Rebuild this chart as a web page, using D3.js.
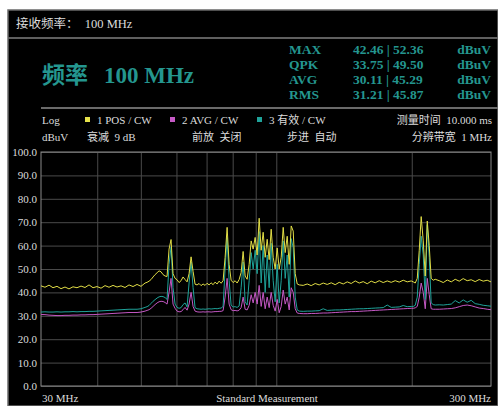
<!DOCTYPE html>
<html><head><meta charset="utf-8">
<script src="https://cdn.jsdelivr.net/npm/d3@7"></script>
<style>
html,body{margin:0;padding:0;background:#fff;}
svg{display:block;}
text{font-family:"Liberation Serif","Noto Sans CJK SC",serif;white-space:pre;}
</style></head>
<body>
<script>
// ---------- data ----------
const freqMHz = [30.00,30.62,31.26,31.90,32.56,33.24,33.92,34.62,35.34,36.07,36.82,37.58,38.36,39.15,39.96,40.79,41.63,42.49,43.37,44.27,45.18,46.12,47.07,48.04,49.04,50.05,51.09,
51.62,52.15,52.69,53.23,53.78,54.33,54.89,55.45,56.02,56.60,57.18,57.77,58.36,58.96,59.57,60.18,60.80,61.43,62.06,62.70,63.35,64.00,64.66,65.32,65.99,66.67,67.36,68.05,68.75,69.46,70.18,70.90,71.63,72.37,73.11,73.87,74.63,75.40,76.17,76.96,77.75,78.55,79.36,80.18,81.00,81.84,82.68,83.53,84.39,85.26,86.14,87.03,87.93,88.83,89.75,90.67,91.61,92.55,93.50,94.47,95.44,96.42,97.42,98.42,99.43,100.46,101.49,102.54,103.59,104.66,105.74,106.83,107.93,109.04,110.16,111.30,112.44,
114.77,117.14,119.56,122.03,124.56,127.13,129.76,132.45,135.19,137.98,140.84,143.75,146.72,149.76,152.85,156.01,159.24,162.53,165.89,169.33,172.83,176.40,180.05,183.77,187.57,191.45,195.41,199.45,
201.5,203.6,205.7,207.8,209.9,212.1,214.3,216.5,218.7,220.9,223.2,225.5,
230.2,235.0,239.8,244.8,249.8,255.0,260.2,265.6,271.1,276.7,282.4,288.3,294.2,300.0];

const posCW = [42.8,42.2,43.1,42.0,42.6,41.6,42.3,41.5,42.4,42.0,42.7,42.1,43.2,42.0,42.5,41.8,42.9,42.2,43.0,42.3,42.8,42.1,43.2,42.5,43.4,42.6,44.0,
44.3,44.8,45.5,46.6,47.6,48.4,49.2,48.8,47.6,47.0,46.8,58.5,62.6,48.0,46.0,45.4,44.2,45.0,46.6,45.5,44.5,48.0,55.2,49.0,43.5,43.2,43.8,42.9,43.6,43.0,43.9,43.2,44.1,43.3,44.4,43.6,44.8,43.9,45.0,55.0,67.8,52.0,45.2,44.2,45.0,44.0,45.5,48.5,57.5,47.0,45.6,52.0,62.0,58.5,63.5,56.0,71.7,58.0,65.7,55.0,62.7,54.0,67.0,55.0,50.0,59.0,50.0,55.0,67.8,57.0,64.0,52.0,68.4,66.2,48.0,43.6,43.2,
43.0,43.6,42.9,43.8,43.2,44.0,43.4,44.1,43.3,44.3,43.6,44.5,43.8,44.9,44.0,44.6,43.7,44.8,44.1,45.0,44.2,44.9,44.3,45.0,44.4,45.2,44.5,44.9,
44.5,44.0,46.0,58.0,72.4,62.0,47.0,70.5,60.0,46.0,45.2,45.6,
45.0,44.2,45.3,44.5,45.6,44.8,45.9,45.0,45.4,44.6,45.5,44.8,45.2,44.5];

const avgCW = [30.6,30.5,30.3,30.2,30.1,30.1,30.2,30.2,30.3,30.3,30.4,30.4,30.5,30.5,30.6,30.7,30.8,30.9,31.0,31.1,31.2,31.3,31.4,31.4,31.4,31.6,32.0,
32.3,32.6,33.2,34.0,34.8,35.5,36.0,36.2,36.1,35.7,35.0,40.0,46.0,35.0,33.2,32.0,31.7,31.8,32.6,33.6,32.4,35.0,40.0,34.0,32.0,31.7,31.6,31.6,31.7,31.6,31.7,31.7,31.6,31.7,31.8,31.8,31.9,31.9,32.2,38.0,46.0,35.0,32.6,32.2,32.3,32.1,32.4,33.5,38.0,32.8,32.5,34.5,39.0,35.5,40.0,35.0,43.0,34.0,40.0,33.0,38.0,33.5,40.0,34.5,32.0,37.0,31.3,34.0,41.0,35.0,38.0,32.5,42.0,40.0,33.0,31.2,31.0,
30.9,30.9,31.0,31.0,31.1,31.2,31.2,31.3,31.4,31.5,31.6,31.7,31.8,31.8,31.9,32.0,32.1,32.2,32.3,32.4,32.5,32.6,32.7,32.8,32.9,33.0,33.1,33.2,
33.2,33.4,34.0,38.0,44.0,40.0,33.0,46.0,39.0,33.0,32.8,32.8,
32.8,32.9,33.0,33.1,33.4,33.9,34.4,34.6,34.3,33.8,33.3,33.1,32.8,32.6];

const rmsCW = [31.6,31.7,31.6,31.6,31.7,31.6,31.7,31.7,31.8,31.7,31.8,31.8,31.9,31.9,32.0,32.1,32.2,32.3,32.4,32.5,32.6,32.7,32.8,32.8,32.8,33.0,33.6,
33.9,34.4,35.3,36.2,36.9,37.6,38.1,38.3,38.2,37.8,37.0,52.0,59.5,42.0,35.0,33.6,33.2,33.5,34.8,35.5,33.8,44.0,53.0,42.0,33.5,33.0,32.9,32.8,32.9,32.8,32.9,33.0,32.9,33.0,33.1,33.0,33.2,33.3,34.0,50.0,63.5,45.0,34.5,33.8,33.9,33.6,34.2,42.0,53.0,36.0,34.6,45.0,57.0,50.0,58.0,48.0,66.0,44.0,60.0,40.0,56.0,42.0,61.0,45.0,36.0,52.0,35.5,45.0,62.0,46.0,56.0,38.0,63.0,59.0,38.0,32.5,32.0,
31.9,32.0,32.0,32.1,32.2,33.0,32.3,32.4,32.5,32.5,32.6,32.7,32.8,32.9,33.0,33.0,33.1,33.2,33.3,33.4,33.5,34.6,33.6,33.7,33.8,34.4,33.9,34.0,
34.0,34.5,38.0,52.0,64.0,56.0,37.0,69.0,55.0,35.5,34.8,34.6,
34.7,34.6,34.8,35.0,36.5,35.5,36.8,35.8,36.6,35.2,34.9,34.5,34.3,34.1];

const yTicks = [0,10,20,30,40,50,60,70,80,90,100];
const xGridMHz = [40,50,60,70,80,90,100,200];
const statRows = [
  {name:"MAX", a:"42.46", b:"52.36"},
  {name:"QPK", a:"33.75", b:"49.50"},
  {name:"AVG", a:"30.11", b:"45.29"},
  {name:"RMS", a:"31.21", b:"45.87"}
];
const legendItems = [
  {label:"1 POS / CW", color:"#e6e24a"},
  {label:"2 AVG / CW", color:"#c65ac6"},
  {label:"3 有效 / CW", color:"#1fa39a"}
];

// ---------- drawing ----------
const W = 498, H = 406;
const svg = d3.select("body").append("svg").attr("width", W).attr("height", H);
svg.append("rect").attr("width", W).attr("height", H).attr("fill", "#fff");
svg.append("rect").attr("x", 8).attr("y", 10).attr("width", W-8).attr("height", H-10)
  .attr("fill", "#000").attr("stroke", "#6a6a6a").attr("stroke-width", 1.5);

const txt = "#dcdcdc", teal = "#24968f";

// header
svg.append("text").attr("x", 16).attr("y", 28).attr("fill", txt).attr("font-size", 12.5)
  .text("接收频率：  100 MHz");
svg.append("line").attr("x1", 8).attr("x2", W).attr("y1", 38).attr("y2", 38)
  .attr("stroke", "#5f5f5f").attr("stroke-width", 2);

// big title
svg.append("text").attr("x", 42).attr("y", 83).attr("fill", teal)
  .attr("font-size", 23).attr("font-weight", "bold").text("频率");
svg.append("text").attr("x", 104).attr("y", 83).attr("fill", teal)
  .attr("font-size", 23).attr("font-weight", "bold").text("100 MHz");

// stats
const sg = svg.append("g");
statRows.forEach((r, i) => {
  const y = 54 + i * 15;
  sg.append("text").attr("x", 289).attr("y", y).attr("fill", teal).attr("font-size", 13.5).attr("font-weight", "bold").text(r.name);
  sg.append("text").attr("x", 353).attr("y", y).attr("fill", teal).attr("font-size", 13.5).attr("font-weight", "bold").text(r.a + " | " + r.b);
  sg.append("text").attr("x", 491).attr("y", y).attr("fill", teal).attr("font-size", 13.5).attr("font-weight", "bold").attr("text-anchor", "end").text("dBuV");
});
svg.append("line").attr("x1", 41).attr("x2", W).attr("y1", 108).attr("y2", 108)
  .attr("stroke", "#6a6a6a").attr("stroke-width", 2);

// legend row 1
const fs = 11;
svg.append("text").attr("x", 42).attr("y", 124).attr("fill", txt).attr("font-size", fs).text("Log");
const legX = [85, 170, 257];
legendItems.forEach((d, i) => {
  svg.append("rect").attr("x", legX[i]).attr("y", 117).attr("width", 5).attr("height", 5).attr("fill", d.color);
  svg.append("text").attr("x", legX[i] + 12).attr("y", 124).attr("fill", txt).attr("font-size", fs).text(d.label);
});
svg.append("text").attr("x", 492).attr("y", 124).attr("fill", txt).attr("font-size", fs).attr("text-anchor", "end").text("测量时间  10.000 ms");
// legend row 2
svg.append("text").attr("x", 42).attr("y", 141).attr("fill", txt).attr("font-size", fs).text("dBuV");
svg.append("text").attr("x", 87).attr("y", 141).attr("fill", txt).attr("font-size", fs).text("衰减  9 dB");
svg.append("text").attr("x", 192).attr("y", 141).attr("fill", txt).attr("font-size", fs).text("前放  关闭");
svg.append("text").attr("x", 287).attr("y", 141).attr("fill", txt).attr("font-size", fs).text("步进  自动");
svg.append("text").attr("x", 492).attr("y", 141).attr("fill", txt).attr("font-size", fs).attr("text-anchor", "end").text("分辨带宽  1 MHz");

// plot
const L = 41, R = 491, T = 152, B = 386;
const x = d3.scaleLog().domain([30, 300]).range([L, R]);
const y = d3.scaleLinear().domain([0, 100]).range([B, T]);

const gy = svg.append("g").attr("transform", `translate(${L},0)`)
  .call(d3.axisLeft(y).tickValues(yTicks).tickFormat(d3.format(".1f")).tickSize(-(R - L)).tickPadding(4));
gy.select(".domain").remove();
gy.selectAll(".tick line").attr("stroke", "#4a4a4a").attr("stroke-width", 1);
gy.selectAll(".tick text").attr("fill", txt).attr("font-size", 11)
  .attr("font-family", "Liberation Serif, serif");

const gx = svg.append("g").attr("transform", `translate(0,${B})`)
  .call(d3.axisBottom(x).tickValues(xGridMHz).tickFormat("").tickSize(-(B - T)));
gx.select(".domain").remove();
gx.selectAll(".tick line").attr("stroke", "#4a4a4a").attr("stroke-width", 1);

svg.append("rect").attr("x", L).attr("y", T).attr("width", R - L).attr("height", B - T)
  .attr("fill", "none").attr("stroke", "#8a8a8a").attr("stroke-width", 1);

const line = vals => d3.line().x((d, i) => x(freqMHz[i])).y(d => y(d))(vals);
const traces = [
  {vals: avgCW, color: "#c458c4"},
  {vals: rmsCW, color: "#1fa39a"},
  {vals: posCW, color: "#e2de46"}
];
traces.forEach(t => {
  svg.append("path").attr("d", line(t.vals)).attr("fill", "none")
    .attr("stroke", t.color).attr("stroke-width", 1).attr("stroke-linejoin", "round");
});

// x labels
svg.append("text").attr("x", 42).attr("y", 402).attr("fill", txt).attr("font-size", 11).text("30 MHz");
svg.append("text").attr("x", 267).attr("y", 402).attr("fill", txt).attr("font-size", 11).attr("text-anchor", "middle").text("Standard Measurement");
svg.append("text").attr("x", 491).attr("y", 402).attr("fill", txt).attr("font-size", 11).attr("text-anchor", "end").text("300 MHz");
</script>
</body></html>
